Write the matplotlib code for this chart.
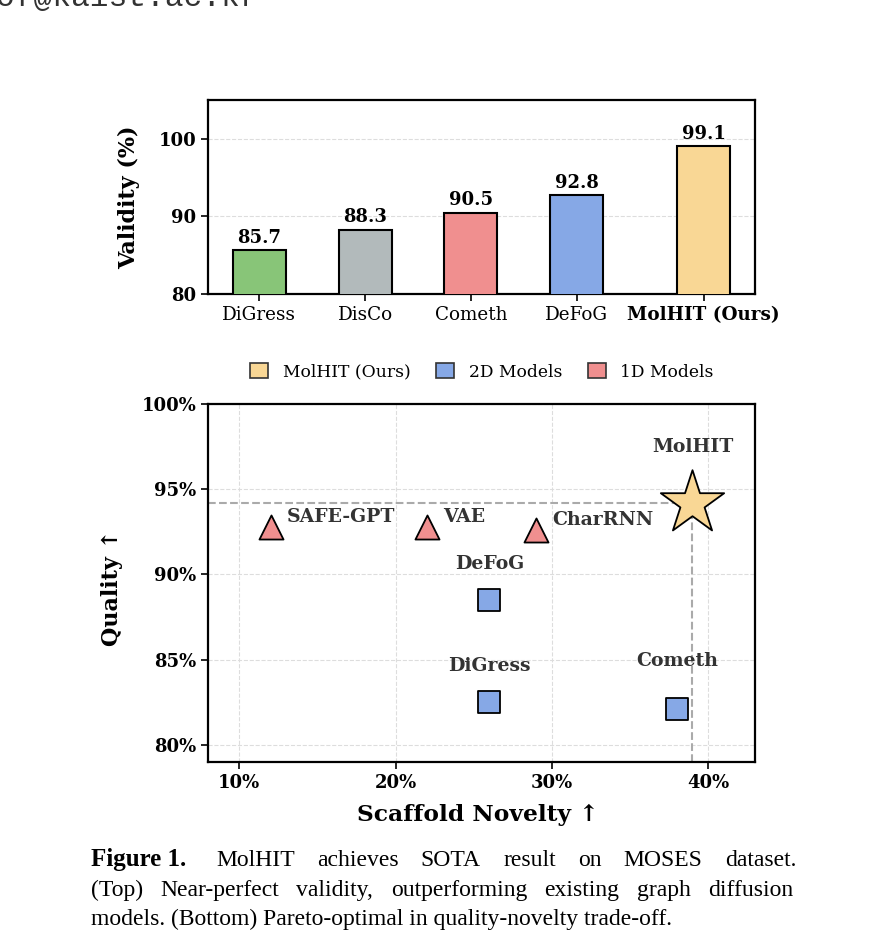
import numpy as np
import matplotlib
matplotlib.use("Agg")
import matplotlib.pyplot as plt
from matplotlib.patches import Patch

plt.rcParams["font.family"] = ["DejaVu Serif"]

# ---------------- data ----------------
models = ["DiGress", "DisCo", "Cometh", "DeFoG", "MolHIT (Ours)"]
validity = [85.7, 88.3, 90.5, 92.8, 99.1]
bar_colors = ["#88c578", "#b2babb", "#f08f8f", "#86a8e6", "#f9d795"]
validity_ticks = [80, 90, 100]

sc_names = ["SAFE-GPT", "VAE", "CharRNN", "DeFoG", "DiGress", "Cometh", "MolHIT"]
sc_novelty = [12, 22, 29, 26, 26, 38, 39]
sc_quality = [92.8, 92.8, 92.6, 88.5, 82.5, 82.1, 94.2]
sc_group = ["1D", "1D", "1D", "2D", "2D", "2D", "ours"]
novelty_ticks = [10, 20, 30, 40]
quality_ticks = [80, 85, 90, 95, 100]

legend_labels = ["MolHIT (Ours)", "2D Models", "1D Models"]

# ---------------- styles ----------------
group_style = {
    "1D": dict(marker="^", color="#f08f8f", size=300),
    "2D": dict(marker="s", color="#86a8e6", size=260),
    "ours": dict(marker="*", color="#f9d795", size=2300),
}
label_offset = {  # points
    "SAFE-GPT": (11.5, 7.0, "left"),
    "VAE": (11.5, 7.0, "left"),
    "CharRNN": (11.5, 7.0, "left"),
    "DeFoG": (0, 26, "center"),
    "DiGress": (0, 26, "center"),
    "Cometh": (0, 35, "center"),
    "MolHIT": (0, 40, "center"),
}

W, H = 883, 933
fig = plt.figure(figsize=(W / 100, H / 100), dpi=100)

# ---------------- top bar chart ----------------
ax1 = fig.add_axes([208 / W, 1 - 294 / H, 547 / W, 194 / H])
xpos = np.arange(len(models), dtype=float)
xpos[-1] += 0.2
ax1.bar(xpos, validity, width=0.5, color=bar_colors, edgecolor="black",
        linewidth=1.5, zorder=3)
for x, v in zip(xpos, validity):
    ax1.text(x, v + 0.4, f"{v:.1f}", ha="center", va="bottom",
             fontsize=13, fontweight="bold", zorder=4)
ax1.set_ylim(80, 105)
ax1.set_yticks(validity_ticks)
ax1.set_yticklabels([str(t) for t in validity_ticks], fontsize=13,
                    fontweight="bold")
ax1.set_xticks(xpos)
ax1.set_xticklabels(models, fontsize=13.2)
ax1.get_xticklabels()[-1].set_fontweight("bold")
ax1.grid(axis="y", linestyle="--", color="#dddddd", linewidth=0.8, zorder=0)
ax1.set_axisbelow(True)
for s in ax1.spines.values():
    s.set_linewidth(1.6)
ax1.tick_params(width=1.2, length=5)
ax1.set_ylabel("Validity (%)", fontsize=16, fontweight="bold")
ax1.yaxis.set_label_coords((140 - 208) / 547, 0.5)

# ---------------- bottom scatter ----------------
ax2 = fig.add_axes([208 / W, 1 - 762 / H, 547 / W, 358 / H])
ax2.set_xlim(8, 43)
ax2.set_ylim(79, 100)
for name, nx, qy, g in zip(sc_names, sc_novelty, sc_quality, sc_group):
    st = group_style[g]
    ax2.scatter([nx], [qy], marker=st["marker"], s=st["size"], c=st["color"],
                edgecolors="black", linewidths=1.3, zorder=5)
    dx, dy, ha = label_offset[name]
    ax2.annotate(name, (nx, qy), xytext=(dx, dy), textcoords="offset points",
                 ha=ha, va="center", fontsize=13.6, fontweight="bold",
                 color="#333333", zorder=6)

# dashed guide lines to MolHIT
mi = sc_names.index("MolHIT")
ax2.plot([ax2.get_xlim()[0], sc_novelty[mi]], [sc_quality[mi]] * 2,
         linestyle="--", color="#aaaaaa", linewidth=1.5, zorder=2)
ax2.plot([sc_novelty[mi]] * 2, [ax2.get_ylim()[0], sc_quality[mi]],
         linestyle="--", color="#aaaaaa", linewidth=1.5, zorder=2)

ax2.set_xticks(novelty_ticks)
ax2.set_xticklabels([f"{t}%" for t in novelty_ticks], fontsize=13,
                    fontweight="bold")
ax2.set_yticks(quality_ticks)
ax2.set_yticklabels([f"{t}%" for t in quality_ticks], fontsize=13,
                    fontweight="bold")
ax2.grid(True, linestyle="--", color="#dddddd", linewidth=0.8, zorder=0)
ax2.set_axisbelow(True)
for s in ax2.spines.values():
    s.set_linewidth(1.6)
ax2.tick_params(width=1.2, length=5)
ax2.set_xlabel("Scaffold Novelty \u2191", fontsize=16.8, fontweight="bold")
ax2.xaxis.set_label_coords(0.493, (762 - 804) / 358)
ax2.set_ylabel("Quality \u2191", fontsize=16, fontweight="bold")
ax2.yaxis.set_label_coords((123 - 208) / 547, 1 - (588 - 404) / 358)

# legend
handles = [Patch(facecolor=group_style[g]["color"], edgecolor="#333333",
                 linewidth=1.2) for g in ["ours", "2D", "1D"]]
fig.legend(handles, legend_labels, loc="center",
           bbox_to_anchor=(482 / W, 1 - 372 / H), ncol=3, frameon=False,
           fontsize=12.3, handlelength=1.05, handleheight=0.95,
           handletextpad=0.85, columnspacing=1.5)

# ---------------- surrounding page text ----------------
fig.text(-4 / W, 1 - 6 / H, "of@kaist.ac.kr", family="Liberation Mono",
         fontsize=22.5, va="baseline", ha="left", color="#333333")

renderer = fig.canvas.get_renderer()
cap_size = 17


def text_width(t, **kw):
    tt = fig.text(0, 0, t, fontsize=cap_size, family="Liberation Serif", **kw)
    w = tt.get_window_extent(renderer).width
    tt.remove()
    return w


def justified(words, x0, x1, ybase):
    widths = [text_width(w) for w in words]
    gap = (x1 - x0 - sum(widths)) / (len(words) - 1)
    x = x0
    for w, wd in zip(words, widths):
        fig.text(x / W, 1 - ybase / H, w, fontsize=cap_size,
                 family="Liberation Serif", va="baseline", ha="left")
        x += wd + gap


fig.text(91 / W, 1 - 866 / H, "Figure 1.", fontsize=cap_size + 1,
         family="Liberation Serif", fontweight="bold", va="baseline")
justified("MolHIT achieves SOTA result on MOSES dataset.".split(),
          216, 796, 866)
justified("(Top) Near-perfect validity, outperforming existing graph diffusion".split(),
          91, 793, 896)
fig.text(91 / W, 1 - 925 / H,
         "models. (Bottom) Pareto-optimal in quality-novelty trade-off.",
         fontsize=cap_size, family="Liberation Serif", va="baseline")

fig.savefig("out.png", dpi=100)
